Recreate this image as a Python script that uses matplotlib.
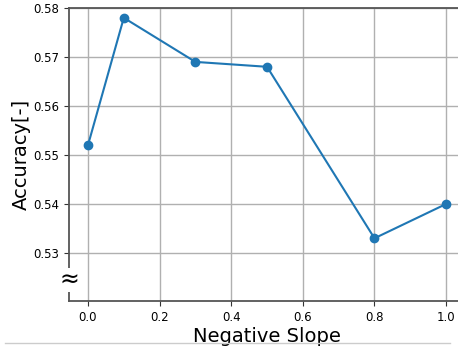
import matplotlib
matplotlib.use("Agg")
import matplotlib.pyplot as plt
from matplotlib.lines import Line2D

slopes = [0.0, 0.1, 0.3, 0.5, 0.8, 1.0]
accuracy = [0.552, 0.578, 0.569, 0.568, 0.533, 0.540]
yticks = [0.53, 0.54, 0.55, 0.56, 0.57, 0.58]
xticks = [0.0, 0.2, 0.4, 0.6, 0.8, 1.0]

fig = plt.figure(figsize=(4.58, 3.47), dpi=100)
ax = fig.add_axes([69/458, 46/347, 395/458, 293/347])
ax.plot(slopes, accuracy, marker='o', color='#1f77b4', markersize=6, linewidth=1.5)
ax.set_xlim(-0.053, 1.05)
ax.set_ylim(0.5202, 0.58)
ax.set_yticks(yticks)
ax.set_xticks(xticks)
ax.grid(True, color='#b0b0b0', linewidth=1)
ax.set_axisbelow(True)
for s in ax.spines.values():
    s.set_color('#555555')
    s.set_linewidth(1.3)
ax.tick_params(colors='#333333', labelsize=8.5, labelcolor='black')
ax.set_xlabel('Negative Slope', fontsize=14, labelpad=2)
ax.set_ylabel('Accuracy[-]', fontsize=14, labelpad=2)
ax.text(0, 0.0717, '≈', transform=ax.transAxes, ha='center', va='center', fontsize=17,
        bbox=dict(facecolor='white', edgecolor='none', pad=0.3), zorder=5, clip_on=False)
fig.add_artist(Line2D([5/458, 450/458], [1-343/347, 1-343/347], color='#cccccc', linewidth=1))
fig.savefig('out.png', dpi=100)
